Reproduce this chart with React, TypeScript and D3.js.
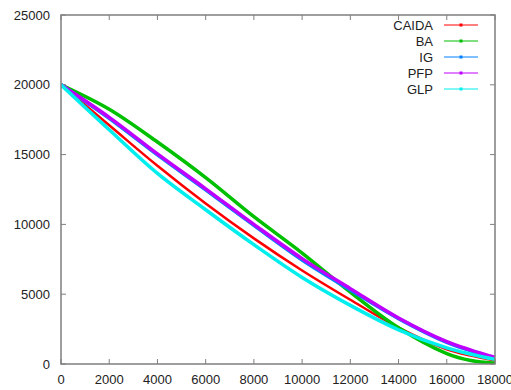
import React from "react";
import * as d3 from "d3";

const xValues = [0, 2000, 4000, 6000, 8000, 10000, 12000, 14000, 16000, 17000, 18000];
const caida = [20000, 17100, 14200, 11500, 9000, 6700, 4600, 2600, 1050, 600, 250];
const ba = [20000, 18250, 15900, 13350, 10550, 7950, 5150, 2600, 750, 250, 60];
const ig = [20000, 17600, 14980, 12480, 9930, 7450, 5300, 3250, 1550, 950, 420];
const pfp = [20000, 17670, 15050, 12550, 10000, 7550, 5400, 3300, 1600, 1000, 480];
const glp = [20000, 16780, 13650, 11050, 8550, 6200, 4200, 2450, 1150, 700, 330];

const seriesNames = ["CAIDA", "BA", "IG", "PFP", "GLP"];
const seriesValues = [caida, ba, ig, pfp, glp];
const colors = ["#ff0000", "#00c000", "#0080ff", "#c000ff", "#00eeee"];
const widths = [2.5, 3.5, 3.5, 3.5, 3.5];

const xTicks = [0, 2000, 4000, 6000, 8000, 10000, 12000, 14000, 16000, 18000];
const yTicks = [0, 5000, 10000, 15000, 20000, 25000];

export default function App() {
  const W = 511, H = 390;
  const left = 61, right = 495, top = 15, bottom = 364;
  const x = d3.scaleLinear().domain([0, 18000]).range([left, right]);
  const y = d3.scaleLinear().domain([0, 25000]).range([bottom, top]);
  const line = d3
    .line<[number, number]>()
    .x((d) => x(d[0]))
    .y((d) => y(d[1]))
    .curve(d3.curveCatmullRom.alpha(0.5));
  const font = "'Liberation Sans', Arial, sans-serif";
  const axisColor = "#7f7f7f";
  return (
    <svg
      width={W}
      height={H}
      style={{ position: "absolute", left: 0, top: 0, background: "#fff" }}
      fontFamily={font}
    >
      <defs>
        <clipPath id="plot">
          <rect x={left} y={top} width={right - left} height={bottom - top} />
        </clipPath>
      </defs>
      {xTicks.map((t) => (
        <g key={"xt" + t}>
          <line x1={x(t)} x2={x(t)} y1={bottom} y2={bottom - 5} stroke={axisColor} strokeWidth={1} />
          <line x1={x(t)} x2={x(t)} y1={top} y2={top + 5} stroke={axisColor} strokeWidth={1} />
          <text x={x(t)} y={384} textAnchor="middle" fontSize={13} fill="#222">
            {t}
          </text>
        </g>
      ))}
      {yTicks.map((t) => (
        <g key={"yt" + t}>
          <line x1={left} x2={left + 5} y1={y(t)} y2={y(t)} stroke={axisColor} strokeWidth={1} />
          <line x1={right} x2={right - 5} y1={y(t)} y2={y(t)} stroke={axisColor} strokeWidth={1} />
          <text x={50} y={y(t) + 4.5} textAnchor="end" fontSize={13} fill="#222">
            {t}
          </text>
        </g>
      ))}
      <g clipPath="url(#plot)">
        {seriesValues.map((vals, i) => (
          <path
            key={seriesNames[i]}
            d={line(xValues.map((xv, j) => [xv, vals[j]] as [number, number])) || ""}
            fill="none"
            stroke={colors[i]}
            strokeWidth={widths[i]}
            strokeLinejoin="round"
          />
        ))}
      </g>
      <rect
        x={left}
        y={top}
        width={right - left}
        height={bottom - top}
        fill="none"
        stroke={axisColor}
        strokeWidth={1.5}
      />
      {seriesNames.map((name, i) => {
        const ly = 25 + i * 16;
        return (
          <g key={"lg" + name}>
            <text x={433} y={ly + 5} textAnchor="end" fontSize={13} fill="#222">
              {name}
            </text>
            <line x1={444} x2={478} y1={ly} y2={ly} stroke={colors[i]} strokeWidth={1} />
            <rect x={459.5} y={ly - 1.5} width={3} height={3} fill={colors[i]} />
          </g>
        );
      })}
    </svg>
  );
}
